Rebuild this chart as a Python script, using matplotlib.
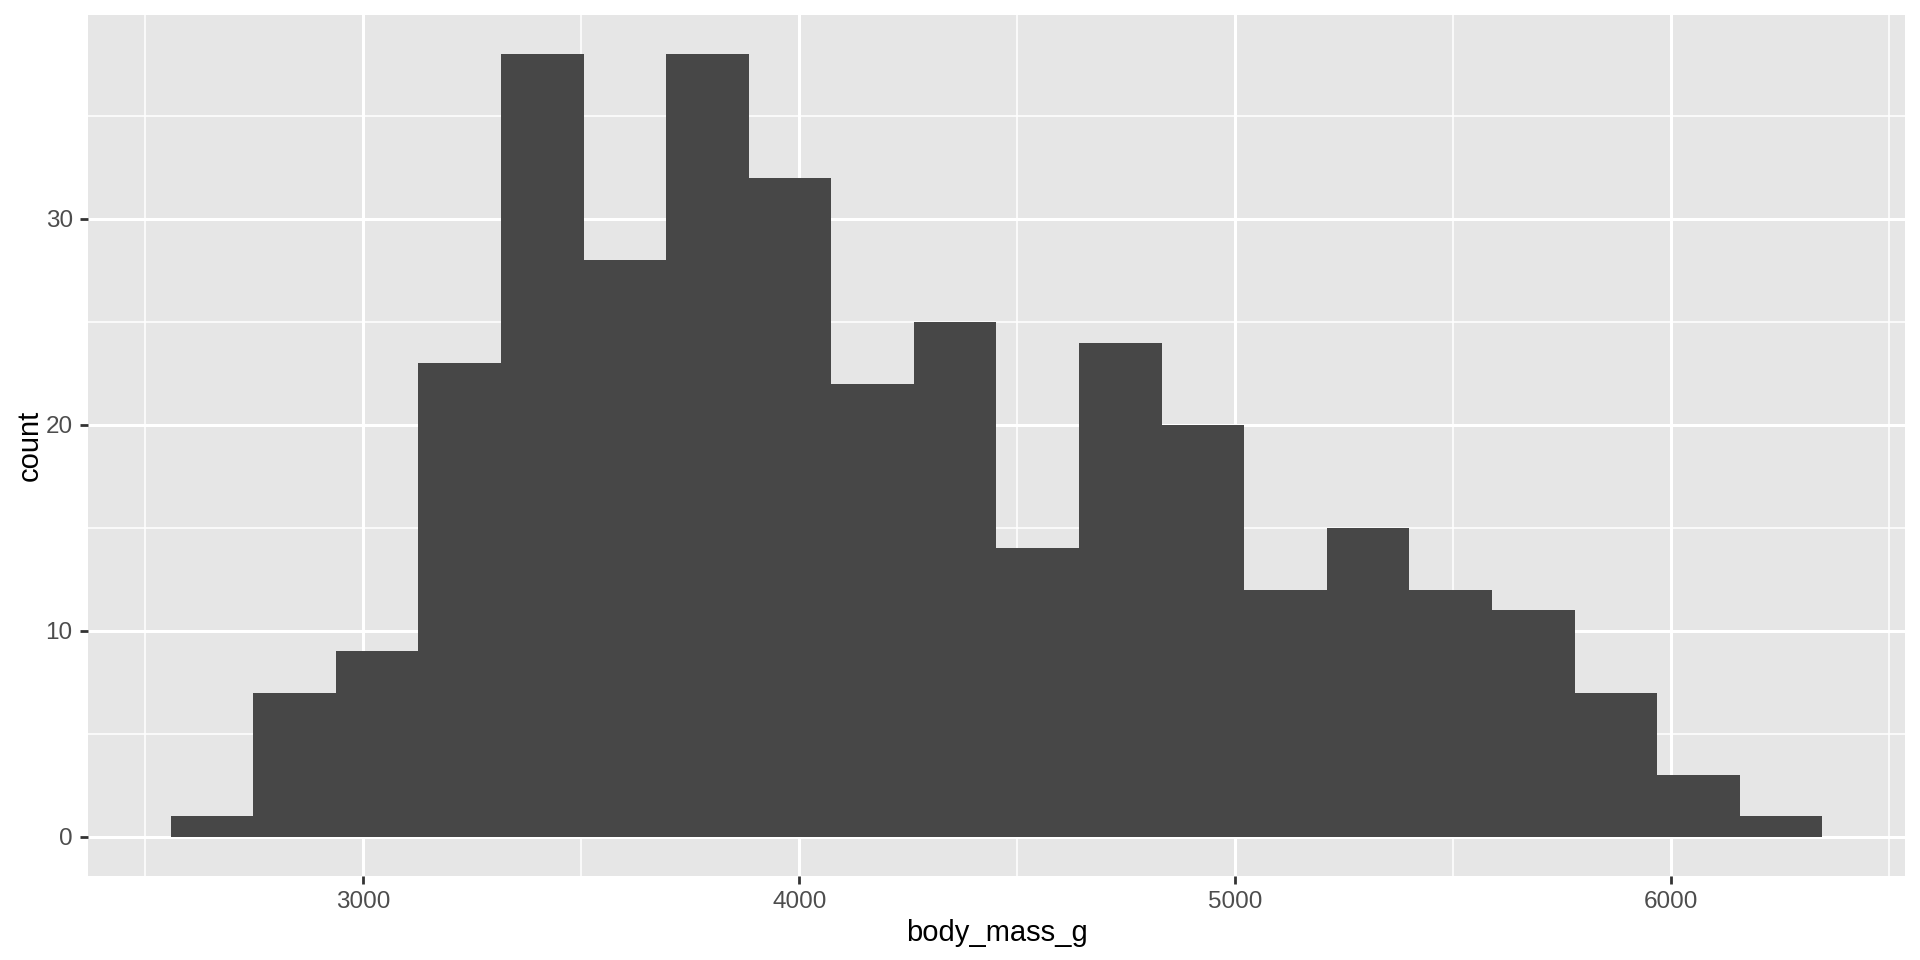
import numpy as np
import matplotlib.pyplot as plt
from matplotlib.ticker import MultipleLocator

# histogram counts of body_mass_g (20 bins, ggplot default binning)
counts = [1, 7, 9, 23, 38, 28, 38, 32, 22, 25, 14, 24, 20, 12, 15, 12, 11, 7, 3, 1]
mass_min, mass_max = 2700, 6300
n_bins = 20
x_ticks = [3000, 4000, 5000, 6000]
y_ticks = [0, 10, 20, 30]

# ggplot2 bin logic: width = range/(bins-1), centred boundary
width = (mass_max - mass_min) / (n_bins - 1)
boundary = width / 2
shift = np.floor((mass_min - boundary) / width)
origin = boundary + shift * width
edges = origin + width * np.arange(n_bins + 1)

plt.rcParams["font.family"] = ["Liberation Sans", "DejaVu Sans"]

fig = plt.figure(figsize=(19.2, 9.6), dpi=100)
ax = fig.add_axes([88 / 1920, 84 / 960, 1817 / 1920, 861 / 960])
ax.set_facecolor("#E6E6E6")

ax.bar(edges[:-1], counts, width=width, align="edge", color="#474747",
       linewidth=0, zorder=3)

xr = edges[-1] - edges[0]
ax.set_xlim(edges[0] - 0.05 * xr, edges[-1] + 0.05 * xr)
ymax = max(counts)
ax.set_ylim(-0.05 * ymax, ymax * 1.05)

ax.set_xticks(x_ticks)
ax.set_yticks(y_ticks)
ax.xaxis.set_minor_locator(MultipleLocator(500))
ax.yaxis.set_minor_locator(MultipleLocator(5))
ax.grid(which="major", color="white", linewidth=2.2, zorder=1)
ax.grid(which="minor", color="white", linewidth=1.1, zorder=1)
ax.set_axisbelow(True)

for s in ax.spines.values():
    s.set_visible(False)

ax.tick_params(which="major", length=6, width=2, color="#333333",
               labelsize=17.5, labelcolor="#4D4D4D", pad=5)
ax.tick_params(which="minor", length=0)

ax.set_xlabel("body_mass_g", fontsize=21, color="black", labelpad=4)
ax.set_ylabel("count", fontsize=21, color="black", labelpad=1)

fig.savefig("out.png", dpi=100, facecolor="white")
